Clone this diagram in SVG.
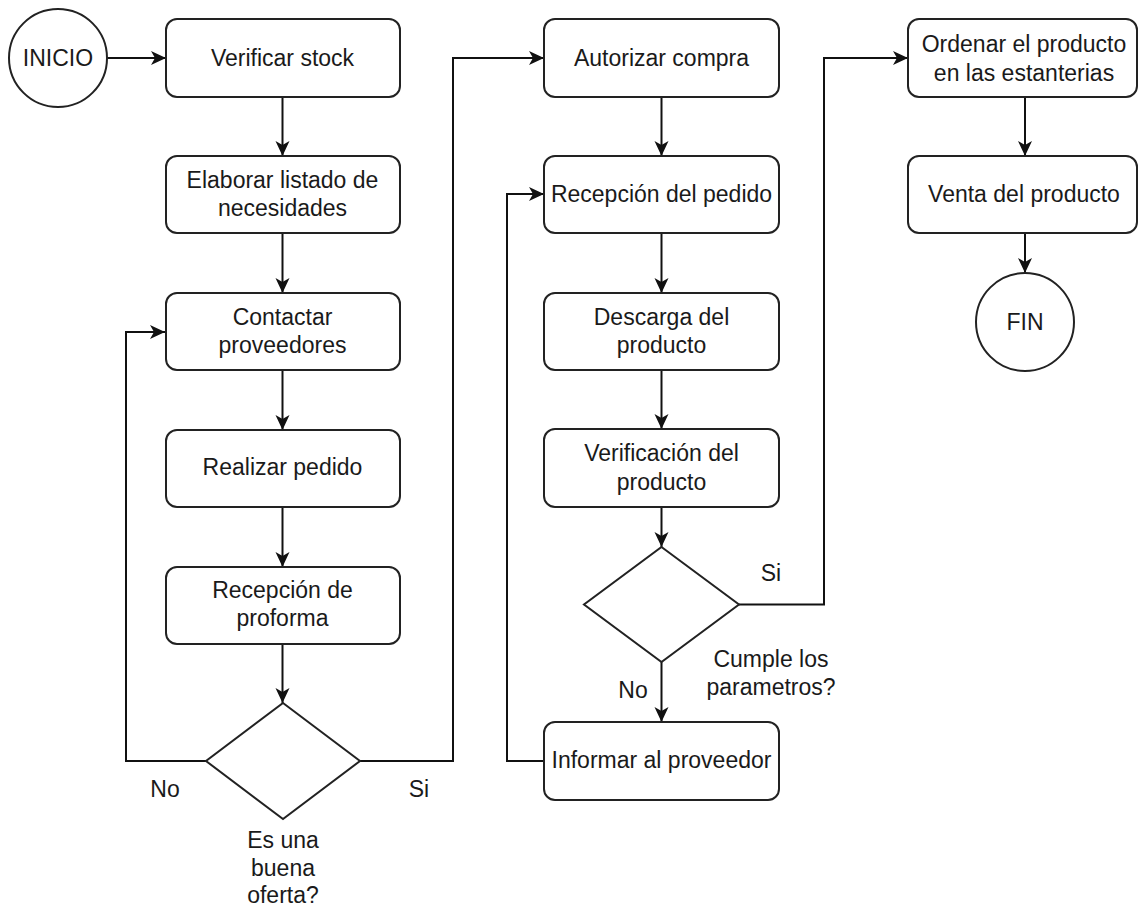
<svg xmlns="http://www.w3.org/2000/svg" width="1138" height="909" viewBox="0 0 1138 909">
<style>
.n{fill:#fff;stroke:#222;stroke-width:2}
.t{font-family:"Liberation Sans",Arial,sans-serif;font-size:23px;fill:#1a1a1a;text-anchor:middle;dominant-baseline:central}
.c{fill:none;stroke:#111;stroke-width:2;marker-end:url(#a)}
</style>
<defs>
<marker id="a" markerUnits="userSpaceOnUse" markerWidth="16" markerHeight="16" refX="15" refY="7" orient="auto">
<path d="M0,0 L15,7 L0,14 L4,7 z" fill="#111"/>
</marker>
</defs>
<rect width="1138" height="909" fill="#fff"/>
<g id="connectors">
<path class="c" d="M107,58 H166"/>
<path class="c" d="M282.5,97 V156"/>
<path class="c" d="M282.5,233 V293"/>
<path class="c" d="M282.5,370 V430"/>
<path class="c" d="M282.5,507 V567"/>
<path class="c" d="M282.5,644 V703"/>
<path class="c" d="M206,761 H126 V332 H165"/>
<path class="c" d="M360,761 H453 V58 H544"/>
<path class="c" d="M661.5,97 V156"/>
<path class="c" d="M661.5,233 V293"/>
<path class="c" d="M661.5,370 V429"/>
<path class="c" d="M661.5,507 V547"/>
<path class="c" d="M661.5,662 V722"/>
<path class="c" d="M739,604.5 H824 V58 H908"/>
<path class="c" d="M544,761 H507 V194 H544"/>
<path class="c" d="M1025,97 V156"/>
<path class="c" d="M1025,233 V273"/>
<text class="t" x="165" y="789">No</text>
<text class="t" x="419" y="789">Si</text>
<text class="t" x="771" y="573">Si</text>
<text class="t" x="633" y="690">No</text>
</g>
<g id="inicio"><circle class="n" cx="58" cy="58" r="49"/><text class="t" x="58" y="58">INICIO</text></g>
<g id="verificar"><rect class="n" x="166" y="19" width="234" height="78" rx="11"/><text class="t" x="282.5" y="58">Verificar stock</text></g>
<g id="elaborar"><rect class="n" x="166" y="156" width="234" height="77" rx="11"/><text class="t" x="282.5" y="180">Elaborar listado de</text><text class="t" x="282.5" y="208">necesidades</text></g>
<g id="contactar"><rect class="n" x="166" y="293" width="234" height="77" rx="11"/><text class="t" x="282.5" y="317">Contactar</text><text class="t" x="282.5" y="345">proveedores</text></g>
<g id="realizar"><rect class="n" x="166" y="430" width="234" height="77" rx="11"/><text class="t" x="282.5" y="467">Realizar pedido</text></g>
<g id="proforma"><rect class="n" x="166" y="567" width="234" height="77" rx="11"/><text class="t" x="282.5" y="590">Recepción de</text><text class="t" x="282.5" y="618">proforma</text></g>
<g id="oferta"><polygon class="n" points="283,703 360,761 283,819 206,761"/><text class="t" x="283" y="840">Es una</text><text class="t" x="283" y="868">buena</text><text class="t" x="283" y="895">oferta?</text></g>
<g id="autorizar"><rect class="n" x="544" y="19" width="235" height="78" rx="11"/><text class="t" x="661.5" y="58">Autorizar compra</text></g>
<g id="recepcion"><rect class="n" x="544" y="156" width="235" height="77" rx="11"/><text class="t" x="661.5" y="194">Recepción del pedido</text></g>
<g id="descarga"><rect class="n" x="544" y="293" width="235" height="77" rx="11"/><text class="t" x="661.5" y="317">Descarga del</text><text class="t" x="661.5" y="345">producto</text></g>
<g id="verificacion"><rect class="n" x="544" y="429" width="235" height="78" rx="11"/><text class="t" x="661.5" y="453">Verificación del</text><text class="t" x="661.5" y="482">producto</text></g>
<g id="cumple"><polygon class="n" points="661.5,547 739,604.5 661.5,662 584,604.5"/><text class="t" x="771" y="659">Cumple los</text><text class="t" x="771" y="687">parametros?</text></g>
<g id="informar"><rect class="n" x="544" y="722" width="235" height="78" rx="11"/><text class="t" x="661.5" y="760">Informar al proveedor</text></g>
<g id="ordenar"><rect class="n" x="908" y="19" width="229" height="78" rx="11"/><text class="t" x="1024" y="44">Ordenar el producto</text><text class="t" x="1024" y="73">en las estanterias</text></g>
<g id="venta"><rect class="n" x="908" y="156" width="229" height="77" rx="11"/><text class="t" x="1024" y="194">Venta del producto</text></g>
<g id="fin"><circle class="n" cx="1025" cy="322" r="49"/><text class="t" x="1025" y="322">FIN</text></g>
</svg>
